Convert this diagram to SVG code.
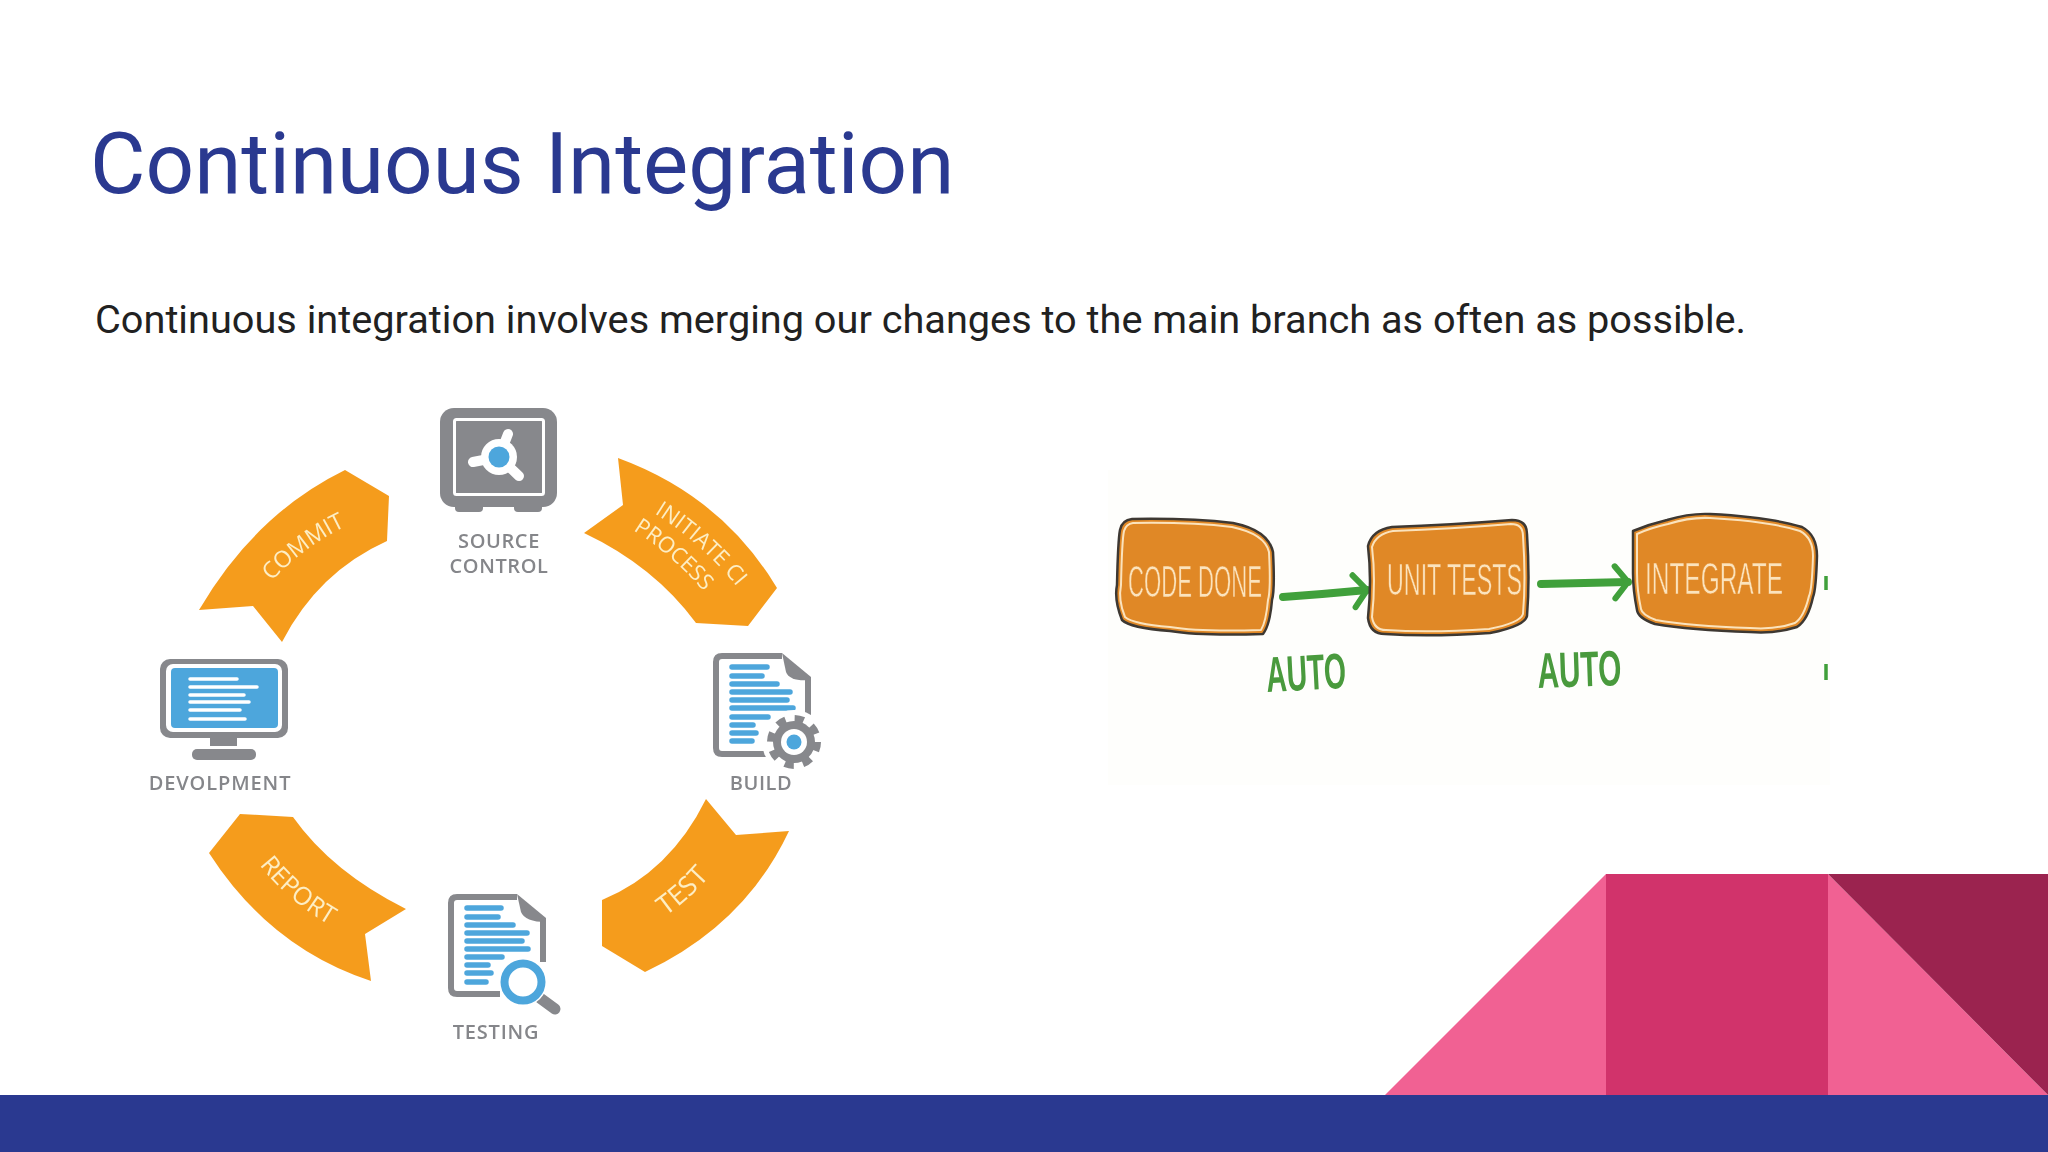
<svg xmlns="http://www.w3.org/2000/svg" width="2048" height="1152" viewBox="0 0 2048 1152">
<style>
.lbl{font-family:"Open Sans","Liberation Sans",sans-serif;font-weight:600;font-size:20px;fill:#85868a;text-anchor:middle}
.rib{fill:#f59c1f}
.ribt{font-family:"Open Sans","Liberation Sans",sans-serif;font-size:23px;fill:#fdeec4}
.grey{fill:#87888c}
.docl{stroke:#4ea6dc;stroke-width:5.5;stroke-linecap:round}
.scrl{stroke:#fff;stroke-width:3.5;stroke-linecap:round}
.box{fill:#e08826;stroke:#3d3833;stroke-width:2.5;stroke-linejoin:round}
.boxi{fill:none;stroke:#fbe3bd;stroke-width:2;stroke-linejoin:round}
.hand{font-family:"Liberation Sans Narrow","Liberation Sans",sans-serif;font-size:44px;fill:#fbe3bd;stroke:#e08826;stroke-width:.6}
.auto{font-family:"Liberation Sans Narrow","Liberation Sans",sans-serif;font-weight:700;font-size:50px;fill:#4a9a3e}
.arr{fill:none;stroke:#41a03a;stroke-width:8;stroke-linecap:round;marker-end:url(#head)}
</style>
<defs>
<marker id="head" markerUnits="userSpaceOnUse" markerWidth="44" markerHeight="60" refX="30" refY="30" orient="auto" overflow="visible">
<path d="M17 14L30 30L17 46" fill="none" stroke="#41a03a" stroke-width="6" stroke-linecap="round" stroke-linejoin="round"/>
</marker>
<filter id="soft" x="-5%" y="-5%" width="110%" height="110%"><feGaussianBlur stdDeviation="0.7"/></filter>
<path id="p-commit" d="M264 590Q304 543 356 522"/>
<path id="p-init" d="M642 506Q700 538 746 598"/>
<path id="p-proc" d="M628 527Q670 552 708 596"/>
<path id="p-report" d="M251 853Q282 900 342 932"/>
<path id="p-test" d="M652 925Q690 902 720 864"/>
</defs>
<rect width="2048" height="1152" fill="#fff"/>
<g id="title"><text x="90" y="193" font-family="Roboto,sans-serif" font-size="85.300" fill="#2a3990">Continuous Integration</text></g>
<g id="subtitle"><text x="95" y="333" font-family="Roboto,'Liberation Sans',sans-serif" font-size="39.700" fill="#212121">Continuous integration involves merging our changes to the main branch as often as possible.</text></g>

<g id="footer-art">
<polygon points="1385,1095 1606,874 1606,1095" fill="#f16193"/>
<rect x="1606" y="874" width="222" height="221" fill="#d1336b"/>
<polygon points="1828,874 1828,1095 2048,1095" fill="#f16193"/>
<polygon points="1828,874 2048,874 2048,1095" fill="#9b234f"/>
<rect y="1095" width="2048" height="57" fill="#2a3990"/>
</g>

<g filter="url(#soft)">
<g id="connectors-cycle">
<g id="commit"><path class="rib" d="M345 470L389 496L387 541Q318 572 282 642L253 606L199 610Q255 514 345 470Z"/>
<text class="ribt"><textPath href="#p-commit" startOffset="50%" text-anchor="middle">COMMIT</textPath></text></g>
<g id="initiate"><path class="rib" d="M618 458Q722 496 777 588L748 626L696 623Q654 566 584 533L623 505Z"/>
<text class="ribt" style="font-size:22px"><textPath href="#p-init" startOffset="50%" text-anchor="middle">INITIATE CI</textPath></text>
<text class="ribt" style="font-size:22px"><textPath href="#p-proc" startOffset="50%" text-anchor="middle">PROCESS</textPath></text></g>
<g id="test"><path class="rib" d="M706 799L736 835L789 831Q745 925 645 972L602 946L602 900Q670 872 706 799Z"/>
<text class="ribt" style="font-size:27px"><textPath href="#p-test" startOffset="50%" text-anchor="middle">TEST</textPath></text></g>
<g id="report"><path class="rib" d="M240 814L293 817Q332 872 406 909L365 934L371 981Q270 948 209 853Z"/>
<text class="ribt" style="font-size:25px"><textPath href="#p-report" startOffset="50%" text-anchor="middle">REPORT</textPath></text></g>
</g>

<g id="source-control">
<rect x="440" y="408" width="117" height="99" rx="14" class="grey"/>
<rect x="455" y="499" width="28" height="13" rx="4" class="grey"/><rect x="514" y="499" width="28" height="13" rx="4" class="grey"/>
<rect x="454.500" y="419.500" width="89" height="75" rx="2" fill="none" stroke="#fff" stroke-width="3"/>
<path d="M499 457L508 434M499 457L473 462M499 457L519 476" stroke="#fff" stroke-width="10" stroke-linecap="round"/>
<circle cx="499" cy="457" r="18" fill="#fff"/><circle cx="499" cy="457" r="10.500" fill="#4ea6dc"/>
<text class="lbl" x="499" y="548" letter-spacing=".6">SOURCE</text>
<text class="lbl" x="499" y="573" letter-spacing=".6">CONTROL</text>
</g>

<g id="development">
<rect x="160" y="659" width="128" height="79" rx="10" class="grey"/>
<rect x="166" y="664" width="116" height="68" rx="7" fill="#fff"/>
<rect x="171" y="668" width="107" height="60" rx="4" fill="#4ea6dc"/>
<rect x="210" y="738" width="27" height="8" class="grey"/><rect x="192" y="749" width="64" height="11" rx="5" class="grey"/>
<path class="scrl" d="M190 679H237M190 687H257M190 695H244M190 702H249M190 710H240M190 719H245"/>
<text class="lbl" x="220" y="790" letter-spacing=".9">DEVOLPMENT</text>
</g>

<g id="build">
<path d="M782 656H722Q716 656 716 662V748Q716 754 722 754H772M808 680V716" fill="#fff" stroke="#87888c" stroke-width="6"/>
<path d="M782 653L811 677V680Q790 682 786 672Z" class="grey"/>
<path class="docl" d="M732 667H767M732 676H762M732 684H777M732 692H790M732 700H787M732 708H793M732 717H768M732 725H753M732 733H756M732 741H752"/>
<circle cx="794" cy="742" r="32" fill="#fff"/>
<circle cx="794" cy="742" r="21" class="grey"/>
<circle cx="794" cy="742" r="23.500" fill="none" stroke="#87888c" stroke-width="7" stroke-dasharray="9.200 9.250"/>
<circle cx="794" cy="742" r="13" fill="#fff"/><circle cx="794" cy="742" r="7.500" fill="#4ea6dc"/>
<text class="lbl" x="761" y="790" letter-spacing=".6">BUILD</text>
</g>

<g id="testing">
<path d="M517 897H457Q451 897 451 903V988Q451 994 457 994H500" fill="#fff" stroke="#87888c" stroke-width="6"/>
<path d="M543 918V962" stroke="#87888c" stroke-width="6"/>
<path d="M517 894L546 918V922Q525 922 521 912Z" class="grey"/>
<path class="docl" d="M467 908H501M467 917H498M467 925H513M467 933H527M467 941H522M467 949H528M467 957H502M467 965H488M467 973H491M467 982H486"/>
<path d="M540 998L555 1009" stroke="#87888c" stroke-width="11" stroke-linecap="round"/>
<circle cx="523" cy="982" r="24" fill="#fff"/>
<circle cx="523" cy="982" r="18.500" fill="#fff" stroke="#4ea6dc" stroke-width="8"/>
<text class="lbl" x="496" y="1039" letter-spacing=".8">TESTING</text>
</g>
</g>

<rect x="1108" y="470" width="722" height="315" fill="#fefefc"/>
<g filter="url(#soft)">
<g id="connectors">
<path class="arr" d="M1283 597Q1325 594 1367 590"/>
<path class="arr" d="M1541 584Q1585 583 1628 582"/>
<path d="M1826 576V590M1826 664V680" stroke="#41a03a" stroke-width="3.500"/>
</g>
<g id="code-done">
<path class="box" d="M1132 519Q1190 518 1233 523Q1268 530 1273 552Q1275 590 1272 600Q1270 625 1263 634Q1200 636 1170 631Q1130 628 1122 620Q1114 600 1117 585Q1118 540 1120 530Q1122 520 1132 519Z"/>
<path class="boxi" d="M1133 523Q1190 522 1232 527Q1265 534 1269 552Q1271 590 1268 600Q1266 622 1261 630Q1200 632 1170 627Q1133 624 1125 617Q1118 600 1121 585Q1122 540 1124 531Q1126 524 1133 523Z"/>
<text class="hand" x="1128" y="597" textLength="134" lengthAdjust="spacingAndGlyphs">CODE DONE</text>
</g>
<g id="unit-tests">
<path class="box" d="M1368 546Q1372 530 1392 527Q1450 525 1512 520Q1527 520 1527 534Q1530 580 1527 616Q1525 626 1490 633Q1430 637 1385 634Q1370 634 1368 618Q1372 580 1368 546Z"/>
<path class="boxi" d="M1372 547Q1376 534 1393 531Q1450 529 1511 524Q1523 524 1523 536Q1526 580 1523 614Q1520 623 1489 629Q1430 633 1386 630Q1374 630 1372 617Q1376 580 1372 547Z"/>
<text class="hand" x="1387" y="595" textLength="135" lengthAdjust="spacingAndGlyphs">UNIT TESTS</text>
</g>
<g id="integrate">
<path class="box" d="M1633 531Q1650 524 1667 520Q1690 513 1710 514Q1770 517 1802 527Q1817 535 1817 556Q1816 590 1813 597Q1808 620 1797 627Q1775 634 1750 632Q1690 630 1655 624Q1638 618 1637 610Q1633 590 1633 573Z"/>
<path class="boxi" d="M1637 534Q1650 528 1668 524Q1690 517 1710 518Q1768 521 1800 531Q1813 538 1813 556Q1812 590 1809 596Q1804 617 1795 623Q1775 630 1750 628Q1690 626 1656 620Q1642 615 1641 609Q1637 590 1637 573Z"/>
<text class="hand" x="1645" y="594" textLength="138" lengthAdjust="spacingAndGlyphs">INTEGRATE</text>
</g>
<text class="auto" transform="rotate(-3 1267 692)" x="1267" y="692" textLength="80" lengthAdjust="spacingAndGlyphs">AUTO</text>
<text class="auto" transform="rotate(-2 1538 688)" x="1538" y="688" textLength="84" lengthAdjust="spacingAndGlyphs">AUTO</text>
</g>
</svg>
